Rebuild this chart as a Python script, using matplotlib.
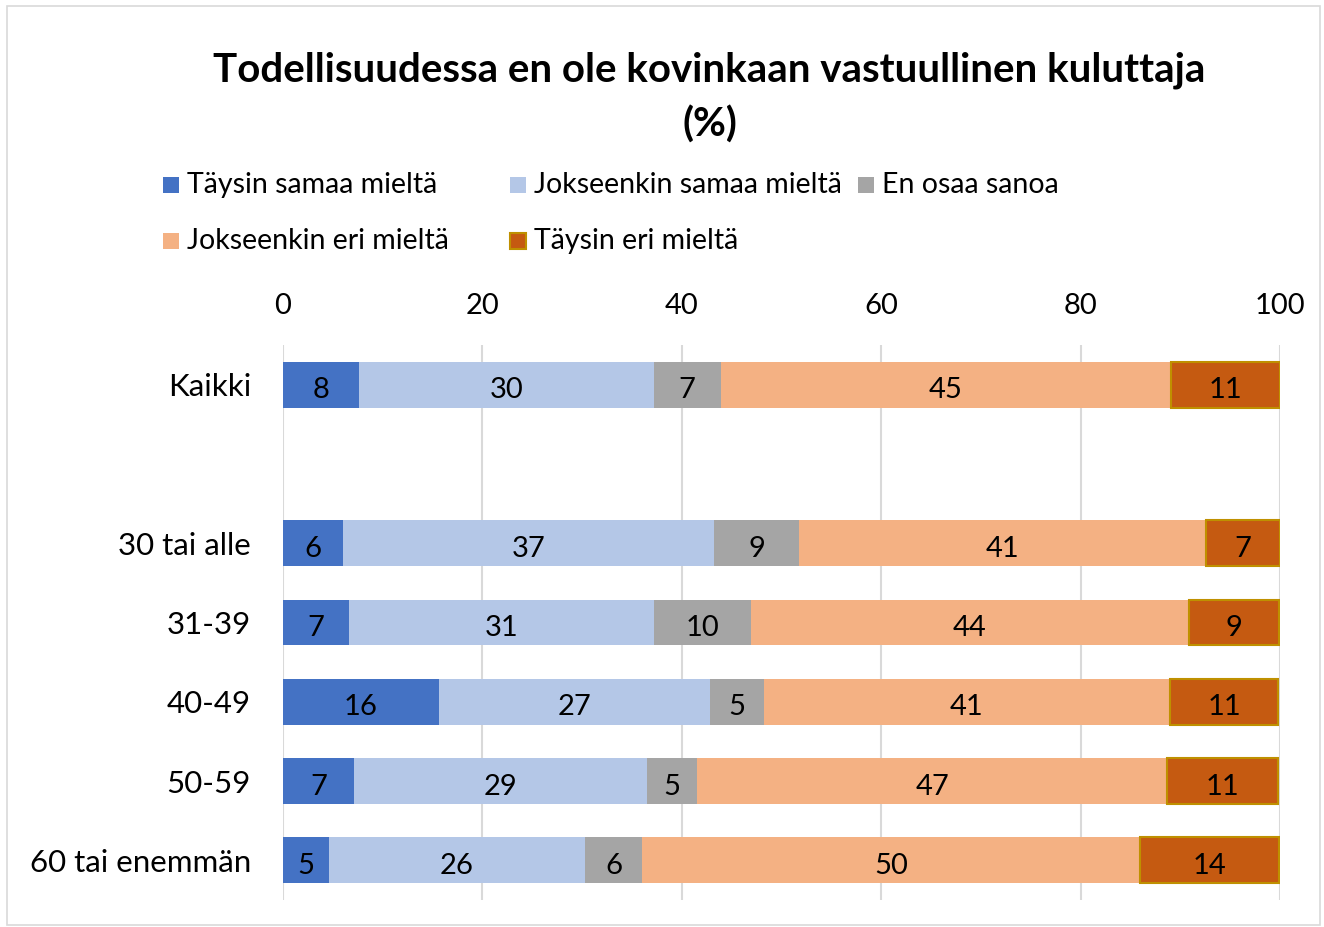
import matplotlib
matplotlib.use("Agg")
import matplotlib.pyplot as plt
from matplotlib.patches import Rectangle
from matplotlib.transforms import offset_copy

plt.rcParams['font.family'] = ['Lato', 'DejaVu Sans']

categories = ["Kaikki", "30 tai alle", "31-39", "40-49", "50-59", "60 tai enemmän"]
positions = [0, 2, 3, 4, 5, 6]
series_names = ["Täysin samaa mieltä", "Jokseenkin samaa mieltä", "En osaa sanoa",
                "Jokseenkin eri mieltä", "Täysin eri mieltä"]
taysin_samaa = [7.6, 6.0, 6.6, 15.6, 7.1, 4.6]
jokseenkin_samaa = [29.6, 37.2, 30.6, 27.2, 29.4, 25.7]
en_osaa = [6.7, 8.6, 9.7, 5.4, 5.0, 5.7]
jokseenkin_eri = [45.2, 40.8, 44.0, 40.8, 47.2, 50.0]
taysin_eri = [10.9, 7.4, 9.0, 10.8, 11.1, 13.9]
x_ticks = [0, 20, 40, 60, 80, 100]

series = [taysin_samaa, jokseenkin_samaa, en_osaa, jokseenkin_eri, taysin_eri]
colors = ["#4472C4", "#B4C7E7", "#A5A5A5", "#F4B183", "#C55A11"]
edges = [None, None, None, None, "#BF9000"]

W, H = 1324, 927
fig = plt.figure(figsize=(W / 100, H / 100), dpi=100)
ax = fig.add_axes([283 / W, 1 - 900 / H, (1280 - 283) / W, (900 - 345) / H])
label_tr = offset_copy(ax.transData, fig=fig, x=0, y=-3, units="dots")

left = [0.0] * len(categories)
for vals, col, ec, name in zip(series, colors, edges, series_names):
    bars = ax.barh(positions, vals, left=left, height=0.58, color=col,
                   edgecolor=ec if ec else col, linewidth=1.5 if ec else 0, label=name, zorder=3)
    for b, v in zip(bars, vals):
        ax.text(b.get_x() + b.get_width() / 2, b.get_y() + b.get_height() / 2, f"{v:.0f}",
                ha="center", va="center_baseline", fontsize=21, color="black", zorder=4,
                transform=label_tr)
    left = [l + v for l, v in zip(left, vals)]

ax.set_xlim(0, 100)
ax.set_ylim(6.5, -0.5)
ax.set_yticks(positions)
ax.set_yticklabels(categories, fontsize=22.5)
ax.set_xticks(x_ticks)
ax.xaxis.tick_top()
ax.tick_params(axis="x", labelsize=21, length=0, pad=19)
ax.tick_params(axis="y", length=0, pad=23)
ax.grid(axis="x", color="#D9D9D9", linewidth=1.5, zorder=0)
for s in ax.spines.values():
    s.set_visible(False)

fig.text(0.536, 1 - 70 / H, "Todellisuudessa en ole kovinkaan vastuullinen kuluttaja",
         ha="center", va="center", fontsize=29, fontweight="bold")
fig.text(0.536, 1 - 125 / H, "(%)", ha="center", va="center", fontsize=29, fontweight="bold")

leg_pos = [(163, 185), (510, 185), (858, 185), (163, 241), (510, 241)]
for (lx, ly), col, ec, name in zip(leg_pos, colors, edges, series_names):
    fig.patches.append(Rectangle((lx / W, 1 - (ly + 8) / H), 16 / W, 16 / H,
                                 facecolor=col, edgecolor=ec if ec else col,
                                 linewidth=1.5 if ec else 0, transform=fig.transFigure))
    fig.text((lx + 24) / W, 1 - ly / H, name, ha="left", va="center", fontsize=20.5)

fig.patches.append(Rectangle((7 / W, 2 / H), (1320 - 7) / W, (921 - 2) / H, facecolor="none",
                             edgecolor="#D9D9D9", linewidth=1.2, transform=fig.transFigure))

fig.savefig("out.png", dpi=100)
